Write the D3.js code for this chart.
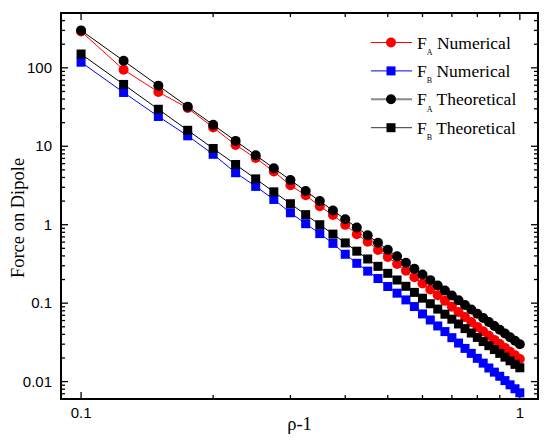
<!DOCTYPE html>
<html>
<head lang="en">
    <meta charset="UTF-8">
    <title>Force on Dipole</title>
    <script type="text/javascript" src="https://cdn.jsdelivr.net/npm/d3@7/dist/d3.min.js"></script>
    <style>
        body { margin: 0; background: #fff; }
        svg { display: block; }
    </style>
</head>
<body>
<div class="holder"></div>

<script>
    // rho-1 values, one point every 0.025
    var rho = [0.1, 0.125, 0.15, 0.175, 0.2, 0.225, 0.25, 0.275, 0.3, 0.325, 0.35, 0.375,
        0.4, 0.425, 0.45, 0.475, 0.5, 0.525, 0.55, 0.575, 0.6, 0.625, 0.65, 0.675,
        0.7, 0.725, 0.75, 0.775, 0.8, 0.825, 0.85, 0.875, 0.9, 0.925, 0.95, 0.975, 1.0];

    var faNumerical = [291, 94.6, 49.2, 30.7, 17.4, 10.4, 7.07, 4.77, 3.19, 2.37, 1.72, 1.33,
        0.996, 0.754, 0.607, 0.477, 0.389, 0.316, 0.259, 0.214, 0.178, 0.149, 0.126, 0.107,
        0.090, 0.0771, 0.0664, 0.0574, 0.0498, 0.0437, 0.0385, 0.0340, 0.0302, 0.0269, 0.0240, 0.0216, 0.0194];

    var fbNumerical = [118, 48.5, 24.0, 13.6, 7.9, 4.6, 3.08, 2.10, 1.42, 1.03, 0.77, 0.578,
        0.42, 0.322, 0.256, 0.206, 0.163, 0.134, 0.110, 0.0905, 0.0729, 0.0610, 0.0512, 0.0434,
        0.0363, 0.0310, 0.0265, 0.0229, 0.0198, 0.0172, 0.0149, 0.0132, 0.0117, 0.0103, 0.0091, 0.0081, 0.0072];

    var faTheoretical = [300, 122.9, 59.26, 31.99, 18.75, 11.71, 7.68, 5.246, 3.704, 2.689, 1.999, 1.517,
        1.172, 0.9195, 0.7316, 0.5893, 0.48, 0.3949, 0.3278, 0.2744, 0.2315, 0.1966, 0.1681, 0.1445,
        0.1249, 0.1086, 0.0948, 0.0832, 0.0732, 0.0648, 0.0575, 0.0512, 0.0457, 0.0410, 0.0368, 0.0332, 0.030];

    var fbTheoretical = [150, 61.44, 29.63, 15.99, 9.375, 5.853, 3.84, 2.623, 1.852, 1.344, 1.0, 0.7585,
        0.586, 0.4598, 0.3658, 0.2947, 0.24, 0.1974, 0.1639, 0.1372, 0.1157, 0.0983, 0.0840, 0.0723,
        0.0625, 0.0543, 0.0474, 0.0416, 0.0366, 0.0324, 0.0287, 0.0256, 0.0229, 0.0205, 0.0184, 0.0166, 0.015];

    var xMajor = [0.1, 1];
    var xLabels = ["0.1", "1"];
    var yMajor = [0.01, 0.1, 1, 10, 100];
    var yLabels = ["0.01", "0.1", "1", "10", "100"];

    var series = [
        {name: "Numerical", sub: "A", values: faNumerical, color: "red", line: "red", lw: 1, shape: "circle"},
        {name: "Numerical", sub: "B", values: fbNumerical, color: "blue", line: "blue", lw: 1, shape: "square"},
        {name: "Theoretical", sub: "A", values: faTheoretical, color: "black", line: "#888", lw: 2, shape: "circle"},
        {name: "Theoretical", sub: "B", values: fbTheoretical, color: "black", line: "#333", lw: 1, shape: "square"}
    ];

    var W = 550, H = 441;
    var m = {left: 61, right: 12, top: 13, bottom: 42};
    var serif = "'Liberation Serif', 'Times New Roman', serif";
    var sans = "'Liberation Sans', Arial, sans-serif";

    var svg = d3.select(".holder")
            .append("svg")
            .attr("width", W)
            .attr("height", H);

    var x = d3.scaleLog().domain([0.09, 1.1]).range([m.left, W - m.right]);
    var y = d3.scaleLog().domain([0.006, 500]).range([H - m.bottom, m.top]);

    var x0 = m.left, x1 = W - m.right, y0 = H - m.bottom, y1 = m.top;

    var xMinor = x.ticks().filter(function(d) { return xMajor.indexOf(d) < 0; });
    var yMinor = y.ticks().filter(function(d) {
        return yMajor.some(function(t) { return Math.abs(t - d) / t < 1e-6; }) === false;
    });

    // ticks all point inward, on all four sides
    var tickG = svg.append("g").attr("stroke", "black").attr("stroke-width", 1.3);

    function xTicks(vals, len) {
        vals.forEach(function(v) {
            tickG.append("line").attr("x1", x(v)).attr("x2", x(v)).attr("y1", y0).attr("y2", y0 - len);
            tickG.append("line").attr("x1", x(v)).attr("x2", x(v)).attr("y1", y1).attr("y2", y1 + len);
        });
    }
    function yTicks(vals, len) {
        vals.forEach(function(v) {
            tickG.append("line").attr("y1", y(v)).attr("y2", y(v)).attr("x1", x0).attr("x2", x0 + len);
            tickG.append("line").attr("y1", y(v)).attr("y2", y(v)).attr("x1", x1).attr("x2", x1 - len);
        });
    }
    xTicks(xMajor, 7);
    xTicks(xMinor, 4);
    yTicks(yMajor, 7);
    yTicks(yMinor.filter(function(d) { return d < 500; }), 4);

    svg.append("rect")
            .attr("x", x0).attr("y", y1)
            .attr("width", x1 - x0).attr("height", y0 - y1)
            .attr("fill", "none")
            .attr("stroke", "black")
            .attr("stroke-width", 2);

    svg.selectAll(".xlab")
            .data(xMajor)
            .enter()
            .append("text")
            .attr("x", function(d) { return x(d); })
            .attr("y", 418)
            .attr("text-anchor", "middle")
            .style("font-family", sans)
            .style("font-size", "15px")
            .text(function(d, i) { return xLabels[i]; });

    svg.selectAll(".ylab")
            .data(yMajor)
            .enter()
            .append("text")
            .attr("x", 52)
            .attr("y", function(d) { return y(d) + 5; })
            .attr("text-anchor", "end")
            .style("font-family", sans)
            .style("font-size", "15px")
            .text(function(d, i) { return yLabels[i]; });

    svg.append("text")
            .attr("x", (x0 + x1) / 2)
            .attr("y", 430)
            .attr("text-anchor", "middle")
            .style("font-family", serif)
            .style("font-size", "18.5px")
            .text("ρ-1");

    svg.append("text")
            .attr("transform", "translate(24,218) rotate(-90)")
            .attr("text-anchor", "middle")
            .style("font-family", serif)
            .style("font-size", "18.5px")
            .text("Force on Dipole");

    var line = d3.line()
            .x(function(d, i) { return x(rho[i]); })
            .y(function(d) { return y(d); });

    function marker(g, shape, cx, cy, color) {
        if (shape === "circle") {
            g.append("circle").attr("cx", cx).attr("cy", cy).attr("r", 5).attr("fill", color);
        } else {
            g.append("rect").attr("x", cx - 4.5).attr("y", cy - 4.5)
                    .attr("width", 9).attr("height", 9).attr("fill", color);
        }
    }

    series.forEach(function(s) {
        var g = svg.append("g");
        g.append("path")
                .attr("d", line(s.values))
                .attr("fill", "none")
                .attr("stroke", s.color)
                .attr("stroke-width", 1);
        s.values.forEach(function(v, i) {
            marker(g, s.shape, x(rho[i]), y(v), s.color);
        });
    });

    // legend
    series.forEach(function(s, i) {
        var ly = 42.5 + i * 28.4;
        var g = svg.append("g");
        g.append("line")
                .attr("x1", 371).attr("x2", 412)
                .attr("y1", ly).attr("y2", ly)
                .attr("stroke", s.line)
                .attr("stroke-width", s.lw);
        marker(g, s.shape, 391, ly, s.color);
        var t = g.append("text")
                .attr("x", 417)
                .attr("y", ly + 6)
                .style("font-family", serif)
                .style("font-size", "17.5px");
        t.append("tspan").text("F");
        t.append("tspan").attr("dy", 6.5).style("font-size", "8px").text(s.sub);
        t.append("tspan").attr("dy", -6.5).text(" " + s.name);
    });
</script>
</body>
</html>
